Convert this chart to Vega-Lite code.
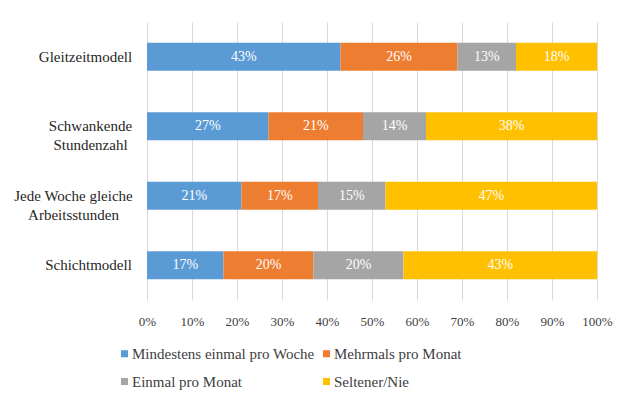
{
  "$schema": "https://vega.github.io/schema/vega-lite/v6.json",
  "width": 450,
  "height": 278,
  "autosize": {"type": "none"},
  "padding": {"left": 147, "top": 22, "right": 34, "bottom": 107},
  "background": "white",
  "data": {
    "values": [
      {"cat": "Gleitzeitmodell", "resp": "Mindestens einmal pro Woche", "o": 1, "v": 0.43},
      {"cat": "Gleitzeitmodell", "resp": "Mehrmals pro Monat", "o": 2, "v": 0.26},
      {"cat": "Gleitzeitmodell", "resp": "Einmal pro Monat", "o": 3, "v": 0.13},
      {"cat": "Gleitzeitmodell", "resp": "Seltener/Nie", "o": 4, "v": 0.18},
      {"cat": "Schwankende Stundenzahl", "resp": "Mindestens einmal pro Woche", "o": 1, "v": 0.27},
      {"cat": "Schwankende Stundenzahl", "resp": "Mehrmals pro Monat", "o": 2, "v": 0.21},
      {"cat": "Schwankende Stundenzahl", "resp": "Einmal pro Monat", "o": 3, "v": 0.14},
      {"cat": "Schwankende Stundenzahl", "resp": "Seltener/Nie", "o": 4, "v": 0.38},
      {"cat": "Jede Woche gleiche Arbeitsstunden", "resp": "Mindestens einmal pro Woche", "o": 1, "v": 0.21},
      {"cat": "Jede Woche gleiche Arbeitsstunden", "resp": "Mehrmals pro Monat", "o": 2, "v": 0.17},
      {"cat": "Jede Woche gleiche Arbeitsstunden", "resp": "Einmal pro Monat", "o": 3, "v": 0.15},
      {"cat": "Jede Woche gleiche Arbeitsstunden", "resp": "Seltener/Nie", "o": 4, "v": 0.47},
      {"cat": "Schichtmodell", "resp": "Mindestens einmal pro Woche", "o": 1, "v": 0.17},
      {"cat": "Schichtmodell", "resp": "Mehrmals pro Monat", "o": 2, "v": 0.20},
      {"cat": "Schichtmodell", "resp": "Einmal pro Monat", "o": 3, "v": 0.20},
      {"cat": "Schichtmodell", "resp": "Seltener/Nie", "o": 4, "v": 0.43}
    ]
  },
  "encoding": {
    "y": {
      "field": "cat",
      "type": "nominal",
      "sort": null,
      "title": null,
      "scale": {"paddingInner": 0.6, "paddingOuter": 0.3},
      "axis": {
        "domain": false,
        "ticks": false,
        "labelFont": "Times New Roman",
        "labelFontSize": 15,
        "labelColor": "#262626",
        "labelAlign": "center",
        "labelLineHeight": 19,
        "labelPadding": {
          "condition": [
            {"test": "datum.value == 'Gleitzeitmodell'", "value": 62},
            {"test": "datum.value == 'Schwankende Stundenzahl'", "value": 57},
            {"test": "datum.value == 'Jede Woche gleiche Arbeitsstunden'", "value": 74}
          ],
          "value": 59
        },
        "labelExpr": "datum.value == 'Schwankende Stundenzahl' ? ['Schwankende', 'Stundenzahl'] : datum.value == 'Jede Woche gleiche Arbeitsstunden' ? ['Jede Woche gleiche', 'Arbeitsstunden'] : datum.value"
      }
    },
    "x": {
      "field": "v",
      "type": "quantitative",
      "stack": "zero",
      "title": null,
      "scale": {"domain": [0, 1], "nice": false},
      "axis": {
        "values": [0, 0.1, 0.2, 0.3, 0.4, 0.5, 0.6, 0.7, 0.8, 0.9, 1],
        "format": ".0%",
        "domain": false,
        "ticks": false,
        "grid": true,
        "gridColor": "#d9d9d9",
        "labelFont": "Times New Roman",
        "labelFontSize": 13,
        "labelColor": "#404040",
        "labelPadding": 15,
        "labelFlush": false,
        "labelOverlap": false
      }
    },
    "order": {"field": "o", "type": "quantitative"}
  },
  "layer": [
    {
      "mark": {"type": "bar"},
      "encoding": {
        "color": {
          "field": "resp",
          "type": "nominal",
          "scale": {
            "domain": ["Mindestens einmal pro Woche", "Mehrmals pro Monat", "Einmal pro Monat", "Seltener/Nie"],
            "range": ["#5B9BD5", "#ED7D31", "#A5A5A5", "#FFC000"]
          },
          "legend": {
            "title": null,
            "orient": "none",
            "direction": "horizontal",
            "legendX": -30,
            "legendY": 324,
            "columns": 2,
            "columnPadding": 4,
            "rowPadding": 12,
            "symbolType": "square",
            "symbolSize": 50,
            "symbolStrokeWidth": 0,
            "labelFont": "Times New Roman",
            "labelFontSize": 15,
            "labelColor": "#404040",
            "labelOffset": 0,
            "labelLimit": 400
          }
        }
      }
    },
    {
      "mark": {"type": "text", "color": "white", "fontSize": 14, "font": "Times New Roman"},
      "encoding": {
        "x": {"field": "v", "type": "quantitative", "stack": "zero", "bandPosition": 0.5},
        "text": {"field": "v", "type": "quantitative", "format": ".0%"}
      }
    }
  ],
  "config": {
    "view": {"stroke": null}
  }
}
